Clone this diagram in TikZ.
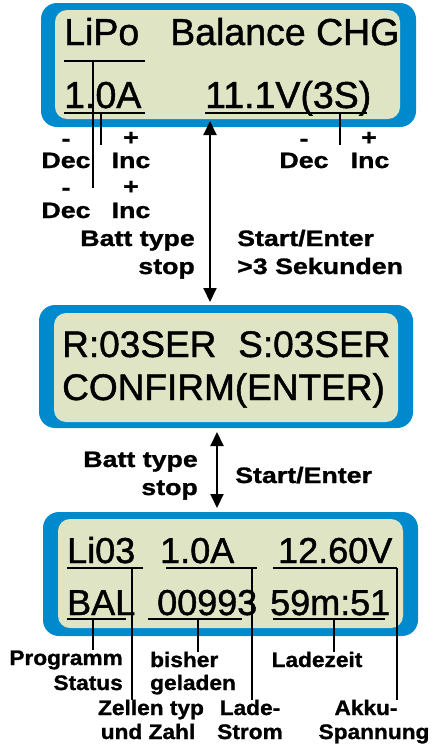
\documentclass[tikz,border=0pt]{standalone}
\usepackage{fontspec}
\setmainfont{Liberation Sans}
\newfontfamily\lcdfont[FakeBold=1.2]{Liberation Sans}
\newfontfamily\lblfont[FakeStretch=1.2,FakeBold=1.2]{Liberation Sans Bold}
\newfontfamily\lblsmfont[FakeStretch=1.08,FakeBold=1.2]{Liberation Sans Bold}
\usetikzlibrary{arrows.meta,positioning}

\definecolor{lcdblue}{RGB}{0,138,206}
\definecolor{lcdface}{RGB}{223,228,196}

\begin{document}
\begin{tikzpicture}[
  x=1pt,
  y=-1pt,
  >={Triangle[width=13pt,length=14pt]},
  screen/.style={fill=lcdblue, rounded corners=16pt},
  face/.style={fill=lcdface, rounded corners=12pt},
  lcd/.style={anchor=base west, inner sep=0pt, font=\lcdfont\fontsize{37.5}{40}\selectfont},
  lbl/.style={anchor=base, inner sep=0pt, font=\lblfont\fontsize{22.3}{27}\selectfont},
  lblsm/.style={anchor=base, inner sep=0pt, font=\lblsmfont\fontsize{21}{24}\selectfont},
  uline/.style={line width=1.3pt},
  lead/.style={line width=1.3pt},
  flow/.style={<->, line width=2pt}
]
  \useasboundingbox (0,0) rectangle (435,747);

  % screen 1: program select
  \path[screen] (41,3) rectangle (416,127);
  \path[face] (55,10) rectangle (400,119);
  \node[lcd] (lipo) at (64,45) {LiPo};
  \node[lcd] (balchg) at (170,45) {Balance CHG};
  \node[lcd] (curA) at (64,108) {1.0A};
  \node[lcd] (volt) at (205,108) {11.1V(3S)};
  \draw[uline] (64,61) -- (145,61);
  \draw[uline] (64,113) -- (145,113);
  \draw[uline] (205,113) -- (367,113);

  \node[lbl] (minA) at (66,146) {-};
  \node[lbl] (plusA) at (131,145) {+};
  \node[lbl] (decA) at (66,168) {Dec};
  \node[lbl] (incA) at (131,168) {Inc};
  \node[lbl] (minB) at (66,195) {-};
  \node[lbl] (plusB) at (131,194) {+};
  \node[lbl] (decB) at (66,218) {Dec};
  \node[lbl] (incB) at (131,218) {Inc};
  \node[lbl] (minC) at (304,146) {-};
  \node[lbl] (plusC) at (369,145) {+};
  \node[lbl] (decC) at (304,168) {Dec};
  \node[lbl] (incC) at (370,168) {Inc};

  \coordinate (lipoTick) at (93,61);
  \coordinate (lipoEnd) at (93,188);
  \coordinate (curTick) at (101,113);
  \coordinate (curEnd) at (101,145);
  \coordinate (voltTick) at (340,113);
  \coordinate (voltEnd) at (340,145);
  \draw[lead] (lipoTick) -- (lipoEnd);
  \draw[lead] (curTick) -- (curEnd);
  \draw[lead] (voltTick) -- (voltEnd);

  \node[lbl, anchor=base east] (batt1) at (195,246) {Batt type};
  \node[lbl, anchor=base east] (stop1) at (195,274) {stop};
  \node[lbl, anchor=base west] (start1) at (237,246) {Start/Enter};
  \node[lbl, anchor=base west] (sek1) at (237,274) {>3 Sekunden};

  \coordinate (arrA) at (210,121);
  \coordinate (arrB) at (210,302);
  \draw[flow] (arrA) -- (arrB);

  % screen 2: cell check
  \path[screen] (39,305) rectangle (413,428);
  \path[face] (54,313) rectangle (398,422);
  \node[lcd, font=\lcdfont\fontsize{37}{40}\selectfont] (rser) at (62,357) {R:03SER};
  \node[lcd, font=\lcdfont\fontsize{37}{40}\selectfont] (sser) at (238,357) {S:03SER};
  \node[lcd, font=\lcdfont\fontsize{37}{40}\selectfont] (confirm) at (62,400) {CONFIRM(ENTER)};

  \node[lbl, anchor=base east] (batt2) at (198,467) {Batt type};
  \node[lbl, anchor=base east] (stop2) at (198,495) {stop};
  \node[lbl, anchor=base west] (start2) at (235,483) {Start/Enter};

  \coordinate (arrC) at (217,432);
  \coordinate (arrD) at (217,508);
  \draw[flow] (arrC) -- (arrD);

  % screen 3: charging
  \path[screen] (43,512) rectangle (418,636);
  \path[face] (58,519) rectangle (403,628);
  \node[lcd, font=\lcdfont\fontsize{36}{40}\selectfont] (li03) at (67,563) {Li03};
  \node[lcd, font=\lcdfont\fontsize{36}{40}\selectfont] (amp) at (160,563) {1.0A};
  \node[lcd, font=\lcdfont\fontsize{36}{40}\selectfont] (vakku) at (278,563) {12.60V};
  \node[lcd, font=\lcdfont\fontsize{36}{40}\selectfont] (bal) at (67,615) {BAL};
  \node[lcd, font=\lcdfont\fontsize{36}{40}\selectfont] (mah) at (157,615) {00993};
  \node[lcd, font=\lcdfont\fontsize{36}{40}\selectfont] (zeit) at (270,615) {59m:51};
  \draw[uline] (67,568) -- (143,568);
  \draw[uline] (166,568) -- (257,568);
  \draw[uline] (273,568) -- (397,568);
  \draw[uline] (67,619) -- (126,619);
  \draw[uline] (148,619) -- (242,619);
  \draw[uline] (273,619) -- (385,619);

  \node[lblsm, anchor=base east] (prog1) at (123,665) {Programm};
  \node[lblsm, anchor=base east] (prog2) at (123,690) {Status};
  \node[lblsm, anchor=base west] (bish1) at (150,667) {bisher};
  \node[lblsm, anchor=base west] (bish2) at (150,690) {geladen};
  \node[lblsm] (ladez) at (317,667) {Ladezeit};
  \node[lblsm] (zell1) at (151,715) {Zellen typ};
  \node[lblsm] (zell2) at (148,739) {und Zahl};
  \node[lblsm] (lade1) at (250,715) {Lade-};
  \node[lblsm] (lade2) at (250,739) {Strom};
  \node[lblsm] (akku1) at (366,715) {Akku-};
  \node[lblsm] (akku2) at (374,739) {Spannung};

  \coordinate (li03Tick) at (132,568);
  \coordinate (ampTick) at (252,568);
  \coordinate (voltTick3) at (397,568);
  \coordinate (balTick) at (93,619);
  \coordinate (mahTick) at (198,619);
  \coordinate (zeitTick) at (334,619);
  \draw[lead] (li03Tick) -- (li03Tick |- zell1.north);
  \draw[lead] (ampTick) -- (ampTick |- lade1.north);
  \draw[lead] (voltTick3) -- (voltTick3 |- akku1.north);
  \draw[lead] (balTick) -- (balTick |- prog1.north);
  \draw[lead] (mahTick) -- (mahTick |- bish1.north);
  \draw[lead] (zeitTick) -- (zeitTick |- ladez.north);
\end{tikzpicture}
\end{document}
